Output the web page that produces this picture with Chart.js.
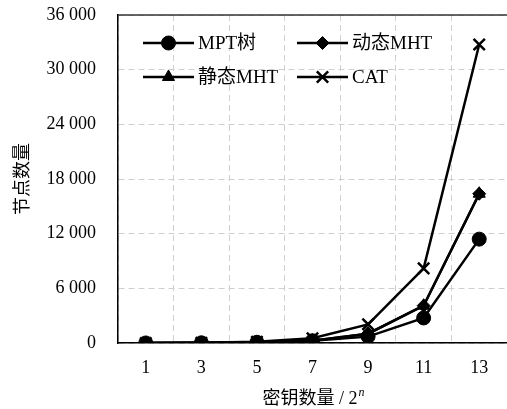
<!DOCTYPE html>
<html>
<head>
<meta charset="utf-8">
<script src="https://cdn.jsdelivr.net/npm/chart.js@4/dist/chart.umd.min.js"></script>
<style>
  html, body { margin: 0; padding: 0; background: #fff; }
  #wrap { width: 507px; height: 409px; position: relative; }
</style>
</head>
<body>
<div id="wrap"><canvas id="myChart"></canvas></div>
<script>
// 데이터
const keyExp = ['1', '3', '5', '7', '9', '11', '13'];
const mptNodes = [5, 20, 80, 250, 700, 2750, 11400];
const dynMhtNodes = [4, 16, 64, 256, 1024, 4096, 16384];
const staMhtNodes = [3, 15, 63, 255, 1023, 4095, 16383];
const catNodes = [8, 32, 128, 512, 2048, 8192, 32768];
const yTicks = [0, 6000, 12000, 18000, 24000, 30000, 36000];

const FONT = '"Liberation Serif", "Noto Sans CJK SC", serif';

// 범례를 그래프 안쪽 좌상단에 직접 그림 + x축 제목(2^n)
const innerLegend = {
    id: 'innerLegend',
    afterDraw(chart) {
        const ctx = chart.ctx;
        const area = chart.chartArea;
        // 상단 테두리
        ctx.save();
        ctx.strokeStyle = '#333';
        ctx.lineWidth = 1.5;
        ctx.beginPath();
        ctx.moveTo(area.left, area.top);
        ctx.lineTo(area.right, area.top);
        ctx.stroke();

        const cols = [area.left + 25, area.left + 179];
        const rows = [area.top + 28, area.top + 62];
        chart.data.datasets.forEach((ds, i) => {
            const x = cols[i % 2];
            const y = rows[Math.floor(i / 2)];
            ctx.strokeStyle = '#000';
            ctx.fillStyle = '#000';
            ctx.lineWidth = 2.5;
            ctx.beginPath();
            ctx.moveTo(x, y);
            ctx.lineTo(x + 51, y);
            ctx.stroke();
            ctx.lineWidth = ds.pointBorderWidth || 1;
            Chart.helpers.drawPoint(ctx, {
                pointStyle: ds.pointStyle,
                radius: ds.pointRadius,
                rotation: 0,
                borderWidth: ds.pointBorderWidth || 1
            }, x + 25.5, y);
            ctx.fillStyle = '#000';
            ctx.font = '19px ' + FONT;
            ctx.textBaseline = 'middle';
            ctx.textAlign = 'left';
            ctx.fillText(ds.label, x + 55, y + 1);
        });

        // x축 제목
        const main = '密钥数量 / 2';
        ctx.font = '18px ' + FONT;
        const w1 = ctx.measureText(main).width;
        ctx.font = 'italic 12px ' + FONT;
        const w2 = ctx.measureText('n').width;
        const tx = 313 - (w1 + w2) / 2;
        ctx.textAlign = 'left';
        ctx.textBaseline = 'alphabetic';
        ctx.font = '18px ' + FONT;
        ctx.fillText(main, tx, 404);
        ctx.font = 'italic 12px ' + FONT;
        ctx.fillText('n', tx + w1 + 1, 396);
        ctx.restore();
    }
};

function line(label, data, style, radius, bw) {
    return {
        label: label,
        data: data,
        borderColor: '#000',
        backgroundColor: '#000',
        borderWidth: 2.5,
        pointStyle: style,
        pointRadius: radius,
        pointHoverRadius: radius,
        pointBackgroundColor: '#000',
        pointBorderColor: '#000',
        pointBorderWidth: bw,
        tension: 0,
        fill: false
    };
}

const ctx = document.getElementById('myChart').getContext('2d');
const myChart = new Chart(ctx, {
    type: 'line',
    plugins: [innerLegend],
    data: {
        labels: keyExp,
        datasets: [
            line('MPT树', mptNodes, 'circle', 7, 1),
            line('动态MHT', dynMhtNodes, 'rectRot', 6.5, 1),
            line('静态MHT', staMhtNodes, 'triangle', 7, 1),
            line('CAT', catNodes, 'crossRot', 8, 2.5)
        ]
    },
    options: {
        responsive: true,
        maintainAspectRatio: false,
        animation: false,
        layout: { autoPadding: false, padding: { top: 15, right: 0, left: 0, bottom: 0 } },
        plugins: {
            legend: { display: false },
            tooltip: { enabled: false }
        },
        scales: {
            x: {
                offset: true,
                afterFit(scale) {
                    scale.height = 66;
                    scale.paddingLeft = 0;
                    scale.paddingRight = 0;
                },
                grid: {
                    offset: true,
                    color: '#cfcfcf',
                    lineWidth: 1,
                    drawTicks: false
                },
                border: { display: true, color: '#000', width: 1.5, dash: [6, 4] },
                ticks: {
                    color: '#000',
                    padding: 14,
                    font: { family: FONT, size: 18 }
                },
                title: { display: false }
            },
            y: {
                min: 0,
                max: 36000,
                afterFit(scale) {
                    scale.width = 118;
                    scale.paddingTop = 0;
                    scale.paddingBottom = 0;
                },
                afterBuildTicks(scale) {
                    scale.ticks = yTicks.map(v => ({ value: v }));
                },
                grid: {
                    color: '#cfcfcf',
                    lineWidth: 1,
                    drawTicks: false
                },
                border: { display: true, color: '#000', width: 1.5, dash: [6, 4] },
                ticks: {
                    color: '#000',
                    padding: 22,
                    font: { family: FONT, size: 18 },
                    callback: v => String(v).replace(/\B(?=(\d{3})+(?!\d))/g, ' ')
                },
                title: {
                    display: true,
                    text: '节点数量',
                    color: '#000',
                    padding: { top: 12, bottom: 0 },
                    font: { family: FONT, size: 18 }
                }
            }
        }
    }
});
</script>
</body>
</html>
